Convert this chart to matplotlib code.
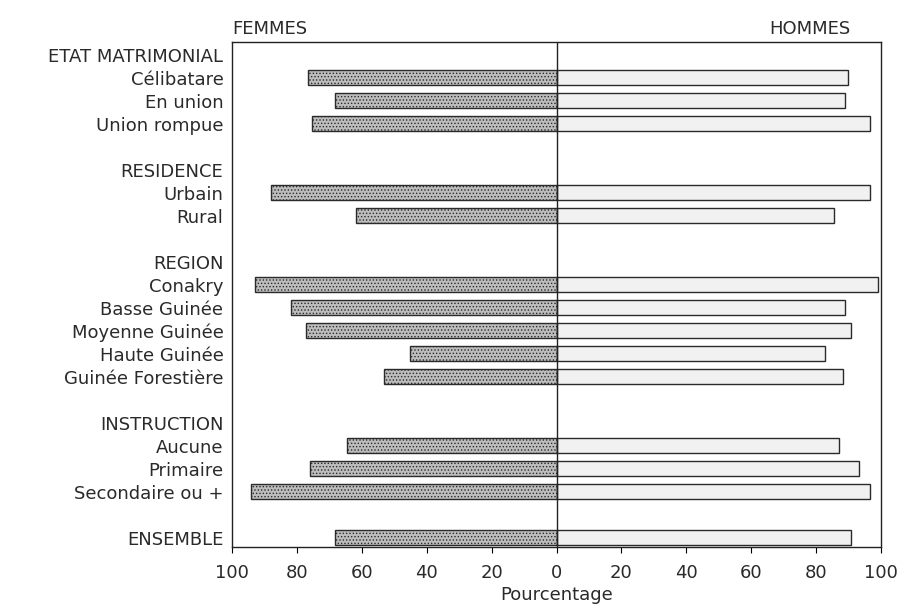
import matplotlib.pyplot as plt
import numpy as np

plt.rcParams['font.family'] = ['DejaVu Sans']
plt.rcParams['hatch.linewidth'] = 0.6
plt.rcParams['hatch.color'] = '#6a6a6a'

# donnees (pourcentages)
items = ["Célibatare", "En union", "Union rompue",
         "Urbain", "Rural",
         "Conakry", "Basse Guinée", "Moyenne Guinée", "Haute Guinée", "Guinée Forestière",
         "Aucune", "Primaire", "Secondaire ou +",
         "ENSEMBLE"]
groups = ["ETAT MATRIMONIAL"] * 3 + ["RESIDENCE"] * 2 + ["REGION"] * 5 + ["INSTRUCTION"] * 3 + [None]
femmes = [76.6, 68.2, 75.3, 88.0, 61.8, 92.9, 81.9, 77.1, 45.0, 53.1, 64.6, 75.9, 94.1, 68.2]
hommes = [89.9, 88.9, 96.5, 96.5, 85.3, 98.9, 88.9, 90.6, 82.7, 88.1, 87.1, 93.2, 96.5, 90.7]
xticks = [-100, -80, -60, -40, -20, 0, 20, 40, 60, 80, 100]

# positions des lignes (en-tetes de groupe + ecart entre groupes)
ypos = []
ylabels = []
row = 0
prev = "start"
for it, g in zip(items, groups):
    if g != prev:
        if prev != "start":
            row += 1
        if g is not None:
            ylabels.append((row, g))
            row += 1
        prev = g
    ypos.append(row)
    ylabels.append((row, it))
    row += 1
ypos = np.array(ypos)

fs = 13
fig = plt.figure(figsize=(9.02, 6.06), dpi=100)
ax = fig.add_axes([0.257, 0.097, 0.72, 0.834])

h = 0.66
ax.barh(ypos, -np.array(femmes), height=h, color='#bdbdbd', edgecolor='#2a2a2a',
        linewidth=1.0, hatch='.....')
ax.barh(ypos, hommes, height=h, color='#f1f1f1', edgecolor='#2a2a2a', linewidth=1.0)
ax.axvline(0, color='#222222', lw=1.0)

ax.set_xlim(-100, 100)
ax.set_ylim(ypos[-1] + 0.42, -0.57)
ax.set_xticks(xticks)
ax.set_xticklabels([str(abs(t)) for t in xticks], fontsize=fs, color='#2a2a2a')
ax.set_yticks([p for p, _ in ylabels])
ax.set_yticklabels([l for _, l in ylabels], fontsize=fs, color='#2a2a2a')
ax.tick_params(axis='y', length=0, pad=6)
ax.tick_params(axis='x', length=4, width=0.8, direction='out', pad=8)
for s in ax.spines.values():
    s.set_linewidth(1.0)
    s.set_color('#222222')

ax.set_xlabel('Pourcentage', fontsize=fs, labelpad=3, color='#2a2a2a')
ax.text(0.0, 1.008, 'FEMMES', transform=ax.transAxes, ha='left', va='bottom',
        fontsize=fs, color='#2a2a2a')
ax.text(0.952, 1.008, 'HOMMES', transform=ax.transAxes, ha='right', va='bottom',
        fontsize=fs, color='#2a2a2a')

fig.savefig('out.png', dpi=100)
